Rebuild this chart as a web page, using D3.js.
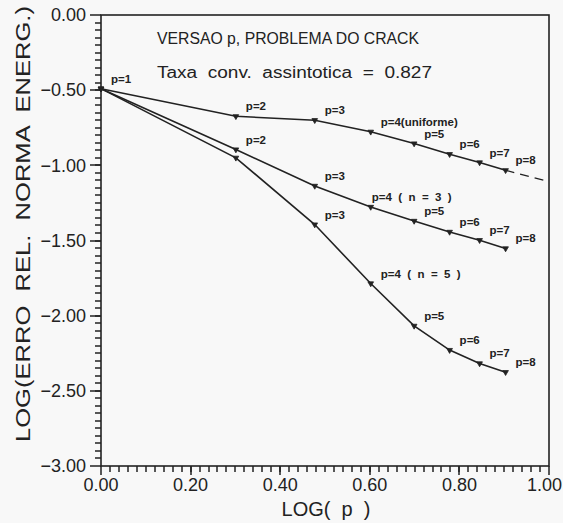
<!DOCTYPE html>
<html>
<head>
<meta charset="utf-8">
<script src="https://cdn.jsdelivr.net/npm/d3@7"></script>
<style>
  body { margin: 0; background: #f8f8f8; }
  text { font-family: "Liberation Sans", Arial, sans-serif; fill: #222; white-space: pre; }
</style>
</head>
<body>
<div id="chart"></div>
<script>
// p values and their logs
const pValues = [1, 2, 3, 4, 5, 6, 7, 8];
const logP = pValues.map(p => Math.log10(p));

// log of relative energy-norm error
const uniformErr = [-0.49, -0.674, -0.70, -0.777, -0.855, -0.926, -0.981, -1.033];
const mesh3Err = [-0.49, -0.895, -1.137, -1.277, -1.37, -1.443, -1.498, -1.553];
const mesh5Err = [-0.49, -0.95, -1.394, -1.786, -2.068, -2.229, -2.318, -2.376];

// dashed extrapolation of the uniform curve
const extrapX = [0.903, 0.99];
const extrapY = [-1.033, -1.10];

// point labels (empty = no label)
const uniformLabels = ['p=1', 'p=2', 'p=3', 'p=4(uniforme)', 'p=5', 'p=6', 'p=7', 'p=8'];
const mesh3Labels = ['', 'p=2', 'p=3', 'p=4  (  n  =  3  )', 'p=5', 'p=6', 'p=7', 'p=8'];
const mesh5Labels = ['', '', 'p=3', 'p=4  (  n  =  5  )', 'p=5', 'p=6', 'p=7', 'p=8'];

const xTicks = [0, 0.2, 0.4, 0.6, 0.8, 1.0];
const yTicks = [0, -0.5, -1.0, -1.5, -2.0, -2.5, -3.0];
// minor tick steps
const xMinor = d3.range(1, 50).map(i => i / 50);
const yMinor = d3.range(1, 60).map(i => -i / 20);

const title1 = 'VERSAO p, PROBLEMA DO CRACK';
const title2 = 'Taxa  conv.  assintotica  =  0.827';
const xTitle = 'LOG(  p  )';
const yTitle = 'LOG(ERRO  REL.  NORMA  ENERG.)';

const width = 563, height = 523;
const margin = { left: 101, right: 14, top: 15, bottom: 57 };

const svg = d3.select('#chart')
    .append('svg')
    .attr('width', width)
    .attr('height', height);

svg.append('rect').attr('width', width).attr('height', height).attr('fill', '#f8f8f8');

const x = d3.scaleLinear().domain([0, 1]).range([margin.left, width - margin.right]);
const y = d3.scaleLinear().domain([-3, 0]).range([height - margin.bottom, margin.top]);

const fmt = d => d3.format('.2f')(d).replace('-', '\u2212');

// frame
svg.append('rect')
    .attr('x', x(0)).attr('y', y(0))
    .attr('width', x(1) - x(0)).attr('height', y(-3) - y(0))
    .attr('fill', 'none').attr('stroke', '#222').attr('stroke-width', 1.6);

// minor ticks (outward)
svg.append('g').selectAll('rect')
    .data(xMinor)
    .join('rect')
    .attr('x', d => Math.round(x(d)) - 0.75)
    .attr('y', y(-3))
    .attr('width', 1.5)
    .attr('height', 6)
    .attr('fill', '#222');

svg.append('g').selectAll('rect')
    .data(yMinor)
    .join('rect')
    .attr('x', x(0) - 6)
    .attr('y', d => Math.round(y(d)) - 0.75)
    .attr('width', 6)
    .attr('height', 1.5)
    .attr('fill', '#222');

// major ticks
svg.append('g').selectAll('rect')
    .data(xTicks)
    .join('rect')
    .attr('x', d => Math.round(x(d)) - 0.75)
    .attr('y', y(-3))
    .attr('width', 1.5)
    .attr('height', 9)
    .attr('fill', '#222');

svg.append('g').selectAll('rect')
    .data(yTicks)
    .join('rect')
    .attr('x', x(0) - 11)
    .attr('y', d => Math.round(y(d)) - 0.75)
    .attr('width', 11)
    .attr('height', 1.5)
    .attr('fill', '#222');

svg.append('g').selectAll('text')
    .data(xTicks)
    .join('text')
    .attr('x', d => d === 1 ? width - 1 : x(d))
    .attr('y', y(-3) + 19)
    .attr('dy', '0.35em')
    .attr('text-anchor', d => d === 1 ? 'end' : 'middle')
    .attr('font-size', 18)
    .text(fmt);

svg.append('g').selectAll('text')
    .data(yTicks)
    .join('text')
    .attr('x', x(0) - 15)
    .attr('y', d => y(d))
    .attr('dy', '0.35em')
    .attr('text-anchor', 'end')
    .attr('font-size', 18)
    .text(fmt);

// axis titles
svg.append('text')
    .attr('x', 326).attr('y', 509)
    .attr('dy', '0.35em')
    .attr('text-anchor', 'middle').attr('font-size', 20)
    .text(xTitle);

svg.append('text')
    .attr('transform', 'translate(30,224) rotate(-90)')
    .attr('text-anchor', 'middle').attr('font-size', 21)
    .attr('textLength', 436).attr('lengthAdjust', 'spacingAndGlyphs')
    .text(yTitle);

// titles inside the plot
svg.append('text')
    .attr('x', 157).attr('y', 44)
    .attr('font-size', 16).attr('textLength', 262).attr('lengthAdjust', 'spacingAndGlyphs')
    .text(title1);
svg.append('text')
    .attr('x', 157).attr('y', 78)
    .attr('font-size', 16).attr('textLength', 275).attr('lengthAdjust', 'spacingAndGlyphs')
    .text(title2);

const line = d3.line()
    .x(d => x(d[0]))
    .y(d => y(d[1]));

const series = [
    { err: uniformErr, labels: uniformLabels },
    { err: mesh3Err, labels: mesh3Labels },
    { err: mesh5Err, labels: mesh5Labels }
];

series.forEach((s, si) => {
    const pts = logP.map((lp, i) => [lp, s.err[i], s.labels[i]]);

    svg.append('path')
        .datum(pts)
        .attr('d', line)
        .attr('fill', 'none')
        .attr('stroke', '#222')
        .attr('stroke-width', 1.6);

    // small triangle markers
    svg.selectAll('.mk' + si)
        .data(pts)
        .join('path')
        .attr('d', d3.symbol().type(d3.symbolTriangle).size(14))
        .attr('fill', '#222')
        .attr('stroke', '#222')
        .attr('stroke-width', 0.8)
        .attr('transform', d => `translate(${x(d[0])},${y(d[1])}) rotate(180)`);

    svg.selectAll('.lb' + si)
        .data(pts.filter(d => d[2] !== ''))
        .join('text')
        .attr('x', d => x(d[0]) + (d[2].indexOf('n  =  3') >= 0 ? 1 : 10))
        .attr('y', d => y(d[1]) - 10)
        .attr('dy', '0.35em')
        .attr('font-size', 11.5)
        .attr('font-weight', 'bold')
        .attr('fill', '#222')
        .text(d => d[2]);
});

// dashed extrapolation
svg.append('path')
    .datum(extrapX.map((v, i) => [v, extrapY[i]]))
    .attr('d', line)
    .attr('fill', 'none')
    .attr('stroke', '#222')
    .attr('stroke-width', 1.3)
    .attr('stroke-dasharray', '9,6');
</script>
</body>
</html>
